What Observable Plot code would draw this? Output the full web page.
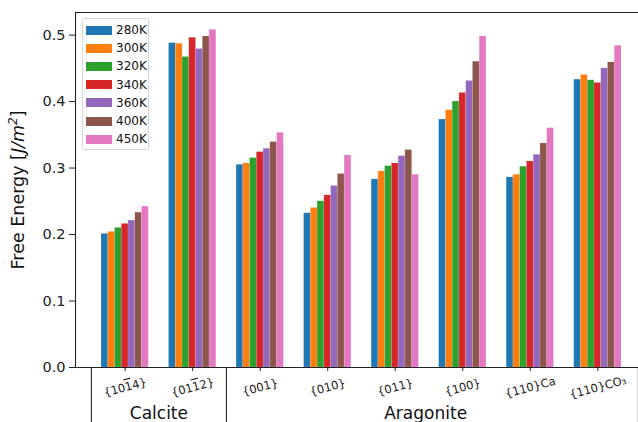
<!DOCTYPE html>
<html>
<head>
<meta charset="utf-8">
<script src="https://cdn.jsdelivr.net/npm/d3@7"></script>
<script src="https://cdn.jsdelivr.net/npm/@observablehq/plot@0.6"></script>
<style>
  body { margin: 0; background: #fff; }
  #wrap { position: relative; width: 638px; height: 422px; overflow: hidden; font-family: "DejaVu Sans", sans-serif; }
  #legend { position: absolute; left: 82px; top: 18px; width: 67px; height: 132px; border: 1px solid #d6d6d6; border-radius: 3px; background: rgba(255,255,255,0.8); box-sizing: border-box; }
  .lg-row { position: absolute; left: 3px; display: flex; align-items: center; font-size: 12px; color: #111; }
  .lg-sw { width: 26px; height: 9px; margin-right: 4px; }
</style>
</head>
<body>
<div id="wrap"></div>
<script>
// ---- data ----
const categories = ["{10\u00AF14}", "{01\u00AF12}", "{001}", "{010}", "{011}", "{100}", "{110}Ca", "{110}CO\u2083"];
const temperatures = ["280K", "300K", "320K", "340K", "360K", "400K", "450K"];
const colors = ["#1f77b4", "#ff7f0e", "#2ca02c", "#d62728", "#9467bd", "#8c564b", "#e377c2"];
const v280 = [0.201, 0.488, 0.305, 0.232, 0.283, 0.373, 0.286, 0.433];
const v300 = [0.204, 0.487, 0.307, 0.240, 0.295, 0.387, 0.290, 0.440];
const v320 = [0.210, 0.467, 0.315, 0.250, 0.303, 0.400, 0.302, 0.432];
const v340 = [0.216, 0.496, 0.324, 0.259, 0.307, 0.413, 0.310, 0.428];
const v360 = [0.221, 0.479, 0.329, 0.273, 0.318, 0.431, 0.320, 0.450];
const v400 = [0.233, 0.498, 0.339, 0.291, 0.327, 0.460, 0.337, 0.459];
const v450 = [0.242, 0.508, 0.353, 0.319, 0.290, 0.498, 0.360, 0.484];
const yTicks = [0.0, 0.1, 0.2, 0.3, 0.4, 0.5];
const groups = [{name: "Calcite", from: 0, to: 1}, {name: "Aragonite", from: 2, to: 7}];

const series = [v280, v300, v320, v340, v360, v400, v450];
const barWidth = 0.1;
const rows = [];
series.forEach((vals, t) => vals.forEach((v, c) => {
  const center = c + (t - (series.length - 1) / 2) * barWidth;
  rows.push({cat: c, temp: temperatures[t], x1: center - barWidth / 2, x2: center + barWidth / 2, value: v});
}));
const xMin = -0.35 - 0.385, xMax = categories.length - 1 + 0.35 + 0.385;
const yMax = 0.534;
const boundaries = [-0.5, 1.5, 7.6];
const catIdx = categories.map((d, i) => i);

const chart = Plot.plot({
  width: 638,
  height: 422,
  marginLeft: 75,
  marginRight: 0,
  marginTop: 12,
  marginBottom: 55,
  style: {fontFamily: "DejaVu Sans, sans-serif", background: "white"},
  x: {type: "linear", domain: [xMin, xMax], range: [75, 647], axis: null},
  y: {type: "linear", domain: [0, yMax], axis: null},
  color: {type: "ordinal", domain: temperatures, range: colors},
  marks: [
    Plot.rectY(rows, {x1: "x1", x2: "x2", y1: () => 0, y2: "value", fill: "temp", stroke: "white", strokeOpacity: 0.25, strokeWidth: 0.5}),
    Plot.ruleY([0], {stroke: "#222", strokeWidth: 1.1}),
    Plot.ruleY([yMax], {stroke: "#222", strokeWidth: 1.1}),
    Plot.ruleX([xMin], {y1: () => 0, y2: () => yMax, stroke: "#222", strokeWidth: 1.1}),
    Plot.axisY({ticks: yTicks, tickFormat: d3.format(".1f"), tickSize: 6, tickPadding: 4, fontSize: 14.5, color: "#222", label: null}),
    Plot.axisX({ticks: catIdx, tickFormat: () => "", tickSize: 4, color: "#222", label: null}),
    Plot.ruleX(boundaries, {x: d => d, y1: () => 0, y2: () => -0.09, stroke: "#222", strokeWidth: 1.1, clip: false}),
    Plot.text(categories, {x: (d, i) => i, y: () => 0, dy: 20, text: d => d, rotate: -15, textAnchor: "middle", fontSize: 11.5, fill: "#222", className: "catlabel"}),
    Plot.text(groups, {x: d => (d.from + d.to) / 2 + (d.to > 1 ? -0.05 : 0), y: () => 0, dy: 46, text: "name", fontSize: 17, fill: "#111"})
  ]
});
document.getElementById("wrap").appendChild(chart);

const svg = d3.select(chart);
// Miller-index bars: "\u00AF" marks that the next digit carries an overbar
svg.selectAll(".catlabel text").each(function() {
  const s = this.textContent;
  const k = s.indexOf("\u00AF");
  if (k < 0) return;
  const el = d3.select(this);
  el.text(null);
  el.append("tspan").text(s.slice(0, k));
  el.append("tspan").style("text-decoration", "overline").text(s[k + 1]);
  el.append("tspan").text(s.slice(k + 2));
});

// y axis label with italic math part
const lbl = svg.append("text")
  .attr("transform", "translate(24,190) rotate(-90)")
  .attr("text-anchor", "middle")
  .attr("font-size", 17.5)
  .attr("fill", "#111");
lbl.append("tspan").text("Free Energy [");
lbl.append("tspan").attr("font-style", "italic").text("J/m");
lbl.append("tspan").attr("font-style", "italic").attr("font-size", 12).attr("dy", -7).text("2");
lbl.append("tspan").attr("dy", 7).text("]");

// legend inside plot
const legend = document.createElement("div");
legend.id = "legend";
temperatures.forEach((t, i) => {
  const row = document.createElement("div");
  row.className = "lg-row";
  row.style.top = (4 + i * 18.2) + "px";
  const sw = document.createElement("div");
  sw.className = "lg-sw";
  sw.style.background = colors[i];
  row.appendChild(sw);
  row.appendChild(document.createTextNode(t));
  legend.appendChild(row);
});
document.getElementById("wrap").appendChild(legend);
</script>
</body>
</html>
